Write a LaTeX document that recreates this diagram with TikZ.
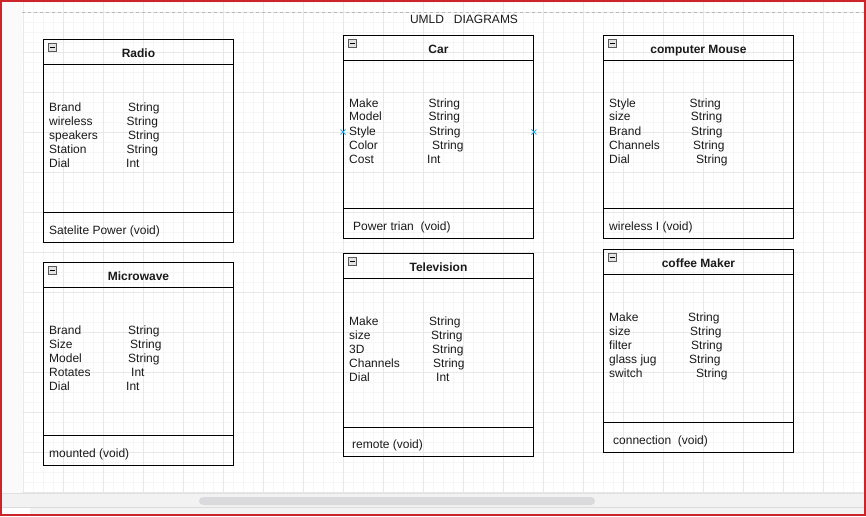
\documentclass[tikz,border=0pt]{standalone}
\usepackage{fontspec}
\setmainfont{Liberation Sans}
\definecolor{frame}{RGB}{204,36,40}
\definecolor{hint}{RGB}{41,170,230}
\definecolor{panel}{RGB}{242,242,242}
\definecolor{thumb}{RGB}{218,218,220}
\definecolor{ink}{RGB}{26,26,26}

\begin{document}
\begin{tikzpicture}[
x=1pt, y=-1pt,
font=\fontsize{12}{14}\selectfont,
umlclass/.style={rectangle,draw,line width=0.9pt,anchor=north west,minimum width=190pt,minimum height=203pt,inner sep=0pt},
heading/.style={font=\fontsize{12}{14}\selectfont\bfseries,anchor=base,inner sep=0pt,text=ink},
field/.style={anchor=base west,inner sep=0pt,text=ink},
toggle/.style={rectangle,draw=black!65,fill=gray!22,line width=0.6pt,minimum size=8pt,inner sep=0pt,anchor=north west},
minorline/.style={draw=black!3.5,line width=0.5pt},
majorline/.style={draw=black!9,line width=0.6pt},
hinted/.style={draw=hint,line width=0.9pt}
]

\useasboundingbox (0,0) rectangle (866,516);

% canvas and grid
\fill[white] (0,0) rectangle (866,516);
\fill[black!2] (2,2) rectangle (22,493);
\foreach \gx in {23,33,...,863} \draw[minorline] (\gx,2) -- (\gx,493);
\foreach \gy in {2,12,...,492} \draw[minorline] (22,\gy) -- (864,\gy);
\foreach \gx in {23,63,...,823} \draw[majorline] (\gx,2) -- (\gx,493);
\foreach \gy in {12,52,...,492} \draw[majorline] (22,\gy) -- (864,\gy);
\draw[black!28,dashed,line width=0.6pt] (22,12) -- (864,12);

% bottom bar
\fill[panel] (2,493) rectangle (864,514);
\draw[black!12,line width=0.6pt] (2,493) -- (864,493);
\draw[black!14,line width=0.6pt] (2,507) -- (864,507);
\fill[white] (2,507.5) rectangle (30,514);
\fill[thumb,rounded corners=4pt] (199,497) rectangle (595,505);

\node[inner sep=0pt,anchor=base,text=ink] (head) at (464,23.5) {UMLD\ \ \ DIAGRAMS};

% Radio
\node[umlclass] (radio) at (43,39) {};
\draw[line width=0.9pt] ([yshift=-25pt]radio.north west) -- ([yshift=-25pt]radio.north east);
\draw[line width=0.9pt] ([yshift=30pt]radio.south west) -- ([yshift=30pt]radio.south east);
\node[toggle] (radio-btn) at (48,43) {};
\draw[line width=0.6pt] ([xshift=1.8pt]radio-btn.west) -- ([xshift=-1.8pt]radio-btn.east);
\node[heading] (radio-title) at ([yshift=-18.5pt]radio.north) {Radio};
\node[field] (radio-1) at (49,111) {Brand};
\node[field] (radio-1t) at (128,111) {String};
\node[field] (radio-2) at (49,125) {wireless};
\node[field] (radio-2t) at (126.5,125) {String};
\node[field] (radio-3) at (49,139) {speakers};
\node[field] (radio-3t) at (128,139) {String};
\node[field] (radio-4) at (49,153) {Station};
\node[field] (radio-4t) at (126.5,153) {String};
\node[field] (radio-5) at (49,167) {Dial};
\node[field] (radio-5t) at (126,167) {Int};
\node[field] (radio-op) at (49,234) {Satelite Power (void)};

% Microwave
\node[umlclass] (micro) at (43,262) {};
\draw[line width=0.9pt] ([yshift=-25pt]micro.north west) -- ([yshift=-25pt]micro.north east);
\draw[line width=0.9pt] ([yshift=30pt]micro.south west) -- ([yshift=30pt]micro.south east);
\node[toggle] (micro-btn) at (48,266) {};
\draw[line width=0.6pt] ([xshift=1.8pt]micro-btn.west) -- ([xshift=-1.8pt]micro-btn.east);
\node[heading] (micro-title) at ([yshift=-18.5pt]micro.north) {Microwave};
\node[field] (micro-1) at (49,334) {Brand};
\node[field] (micro-1t) at (128,334) {String};
\node[field] (micro-2) at (49,348) {Size};
\node[field] (micro-2t) at (130,348) {String};
\node[field] (micro-3) at (49,362) {Model};
\node[field] (micro-3t) at (128,362) {String};
\node[field] (micro-4) at (49,376) {Rotates};
\node[field] (micro-4t) at (131,376) {Int};
\node[field] (micro-5) at (49,390) {Dial};
\node[field] (micro-5t) at (126,390) {Int};
\node[field] (micro-op) at (49,457) {mounted (void)};

% Car
\node[umlclass] (car) at (343,35) {};
\draw[line width=0.9pt] ([yshift=-25pt]car.north west) -- ([yshift=-25pt]car.north east);
\draw[line width=0.9pt] ([yshift=30pt]car.south west) -- ([yshift=30pt]car.south east);
\node[toggle] (car-btn) at (348,39) {};
\draw[line width=0.6pt] ([xshift=1.8pt]car-btn.west) -- ([xshift=-1.8pt]car-btn.east);
\node[heading] (car-title) at ([yshift=-18.5pt]car.north) {Car};
\node[field] (car-1) at (349,107) {Make};
\node[field] (car-1t) at (428.5,107) {String};
\node[field] (car-2) at (349,121) {Model};
\node[field] (car-2t) at (428.5,121) {String};
\node[field] (car-3) at (349,135) {Style};
\node[field] (car-3t) at (429,135) {String};
\node[field] (car-4) at (349,149) {Color};
\node[field] (car-4t) at (432,149) {String};
\node[field] (car-5) at (349,163) {Cost};
\node[field] (car-5t) at (427,163) {Int};
\node[field] (car-op) at (353,230) {Power trian\ \ (void)};
\coordinate (car-l) at ([yshift=-97pt]car.north west);
\coordinate (car-r) at ([yshift=-97pt]car.north east);
\draw[hinted] (car-l) +(-2.5,-2.5) -- +(2.5,2.5) (car-l) +(-2.5,2.5) -- +(2.5,-2.5);
\draw[hinted] (car-r) +(-2.5,-2.5) -- +(2.5,2.5) (car-r) +(-2.5,2.5) -- +(2.5,-2.5);

% Television
\node[umlclass] (tv) at (343,253) {};
\draw[line width=0.9pt] ([yshift=-25.5pt]tv.north west) -- ([yshift=-25.5pt]tv.north east);
\draw[line width=0.9pt] ([yshift=29.5pt]tv.south west) -- ([yshift=29.5pt]tv.south east);
\node[toggle] (tv-btn) at (348,257) {};
\draw[line width=0.6pt] ([xshift=1.8pt]tv-btn.west) -- ([xshift=-1.8pt]tv-btn.east);
\node[heading] (tv-title) at ([yshift=-18.5pt]tv.north) {Television};
\node[field] (tv-1) at (349,325) {Make};
\node[field] (tv-1t) at (429,325) {String};
\node[field] (tv-2) at (349,339) {size};
\node[field] (tv-2t) at (431,339) {String};
\node[field] (tv-3) at (349,353) {3D};
\node[field] (tv-3t) at (432,353) {String};
\node[field] (tv-4) at (349,367) {Channels};
\node[field] (tv-4t) at (433,367) {String};
\node[field] (tv-5) at (349,381) {Dial};
\node[field] (tv-5t) at (436,381) {Int};
\node[field] (tv-op) at (352,448) {remote (void)};

% computer Mouse
\node[umlclass] (mouse) at (603,35) {};
\draw[line width=0.9pt] ([yshift=-25.5pt]mouse.north west) -- ([yshift=-25.5pt]mouse.north east);
\draw[line width=0.9pt] ([yshift=30pt]mouse.south west) -- ([yshift=30pt]mouse.south east);
\node[toggle] (mouse-btn) at (608,39) {};
\draw[line width=0.6pt] ([xshift=1.8pt]mouse-btn.west) -- ([xshift=-1.8pt]mouse-btn.east);
\node[heading] (mouse-title) at ([yshift=-18.5pt]mouse.north) {computer Mouse};
\node[field] (mouse-1) at (609,107) {Style};
\node[field] (mouse-1t) at (689.3,107) {String};
\node[field] (mouse-2) at (609,121) {size};
\node[field] (mouse-2t) at (690.7,121) {String};
\node[field] (mouse-3) at (609,135) {Brand};
\node[field] (mouse-3t) at (691,135) {String};
\node[field] (mouse-4) at (609,149) {Channels};
\node[field] (mouse-4t) at (693,149) {String};
\node[field] (mouse-5) at (609,163) {Dial};
\node[field] (mouse-5t) at (696,163) {String};
\node[field] (mouse-op) at (609,230) {wireless I (void)};

% coffee Maker
\node[umlclass] (coffee) at (603,249) {};
\draw[line width=0.9pt] ([yshift=-25pt]coffee.north west) -- ([yshift=-25pt]coffee.north east);
\draw[line width=0.9pt] ([yshift=30pt]coffee.south west) -- ([yshift=30pt]coffee.south east);
\node[toggle] (coffee-btn) at (608,253) {};
\draw[line width=0.6pt] ([xshift=1.8pt]coffee-btn.west) -- ([xshift=-1.8pt]coffee-btn.east);
\node[heading] (coffee-title) at ([yshift=-18.5pt]coffee.north) {coffee Maker};
\node[field] (coffee-1) at (609,321) {Make};
\node[field] (coffee-1t) at (688,321) {String};
\node[field] (coffee-2) at (609,335) {size};
\node[field] (coffee-2t) at (690,335) {String};
\node[field] (coffee-3) at (609,349) {filter};
\node[field] (coffee-3t) at (691,349) {String};
\node[field] (coffee-4) at (609,363) {glass jug};
\node[field] (coffee-4t) at (689,363) {String};
\node[field] (coffee-5) at (609,377) {switch};
\node[field] (coffee-5t) at (696,377) {String};
\node[field] (coffee-op) at (613,444) {connection\ \ (void)};

% window frame
\draw[frame,line width=2pt] (1,1) rectangle (865,515);

\end{tikzpicture}
\end{document}
